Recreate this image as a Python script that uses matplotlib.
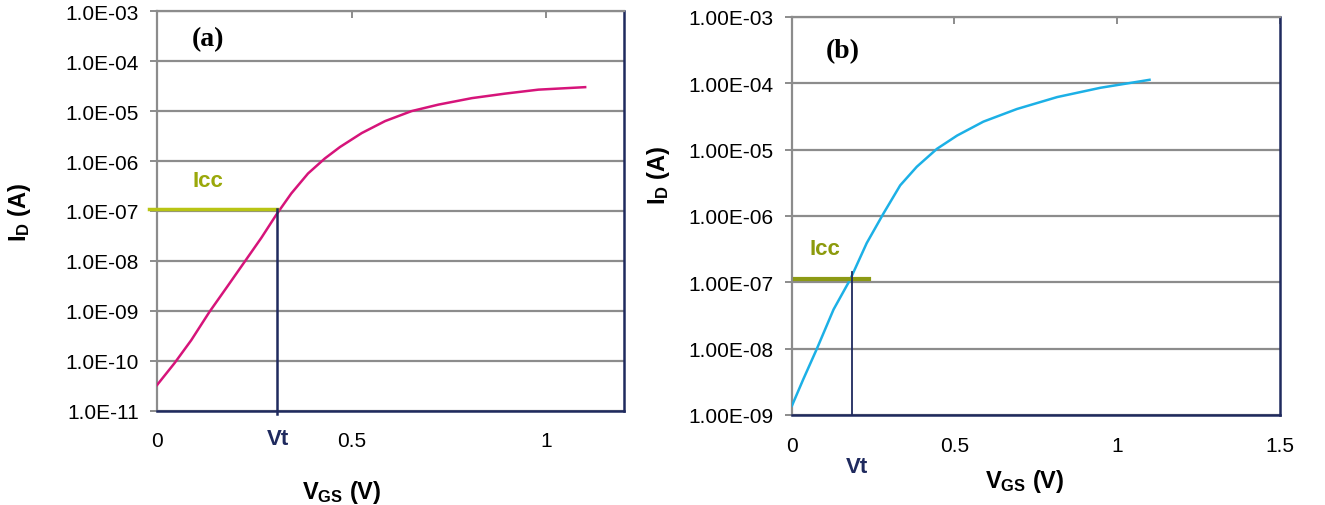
import numpy as np
import matplotlib
matplotlib.use("Agg")
import matplotlib.pyplot as plt
from matplotlib.ticker import FixedLocator, FixedFormatter

plt.rcParams['font.family'] = ['Liberation Sans', 'DejaVu Sans']
plt.rcParams['mathtext.fontset'] = 'custom'
plt.rcParams['mathtext.rm'] = 'Liberation Sans'
plt.rcParams['mathtext.bf'] = 'Liberation Sans:bold'

# ---------- data ----------
# panel (a)
vgs_a = [0.0, 0.045, 0.088, 0.135, 0.182, 0.225, 0.268, 0.307, 0.345, 0.388,
         0.431, 0.470, 0.526, 0.586, 0.654, 0.723, 0.809, 0.894, 0.980, 1.10]
log_id_a = [-10.49, -10.05, -9.59, -9.02, -8.5, -8.02, -7.54, -7.07, -6.65, -6.25,
            -5.95, -5.72, -5.44, -5.20, -5.0, -4.87, -4.74, -4.65, -4.57, -4.52]
icc_a = 1.1e-7
vt_a = 0.307
yticks_a = [1e-11, 1e-10, 1e-9, 1e-8, 1e-7, 1e-6, 1e-5, 1e-4, 1e-3]
ylabels_a = ['1.0E-11', '1.0E-10', '1.0E-09', '1.0E-08', '1.0E-07',
             '1.0E-06', '1.0E-05', '1.0E-04', '1.0E-03']
xticks_a = [0, 0.5, 1]
xlabels_a = ['0', '0.5', '1']

# panel (b)
vgs_b = [0.0, 0.035, 0.076, 0.128, 0.179, 0.230, 0.282, 0.333, 0.384, 0.446,
         0.508, 0.589, 0.692, 0.816, 0.949, 1.10]
log_id_b = [-8.86, -8.46, -8.01, -7.41, -6.96, -6.41, -5.96, -5.54, -5.26, -4.99,
            -4.79, -4.58, -4.39, -4.21, -4.07, -3.95]
icc_b = 1.12e-7
vt_b = 0.185
yticks_b = [1e-9, 1e-8, 1e-7, 1e-6, 1e-5, 1e-4, 1e-3]
ylabels_b = ['1.00E-09', '1.00E-08', '1.00E-07', '1.00E-06', '1.00E-05',
             '1.00E-04', '1.00E-03']
xticks_b = [0, 0.5, 1, 1.5]
xlabels_b = ['0', '0.5', '1', '1.5']

GRID = '#8c8c8c'
NAVY = '#1f2a5e'

fig = plt.figure(figsize=(13.25, 5.06), dpi=100)
ax_a = fig.add_axes([0.1185, 0.1867, 0.3525, 0.789])
ax_b = fig.add_axes([0.5977, 0.1779, 0.368, 0.787])


def style_axes(ax, xticks, xlabels, yticks, ylabels, xmax, ymin, ymax):
    ax.set_yscale('log')
    ax.set_xlim(0, xmax)
    ax.set_ylim(ymin, ymax)
    ax.yaxis.set_major_locator(FixedLocator(yticks))
    ax.yaxis.set_major_formatter(FixedFormatter(ylabels))
    ax.yaxis.set_minor_locator(FixedLocator([]))
    ax.set_xticks(xticks)
    ax.set_xticklabels(xlabels)
    ax.grid(axis='y', color=GRID, linewidth=1.6, zorder=0)
    for s in ['left', 'top']:
        ax.spines[s].set_color(GRID)
        ax.spines[s].set_linewidth(1.6)
    for s in ['right', 'bottom']:
        ax.spines[s].set_color(NAVY)
        ax.spines[s].set_linewidth(1.8)
    ax.tick_params(axis='y', direction='out', length=5, width=1.4, color=GRID,
                   labelsize=15, pad=8)
    ax.tick_params(axis='x', bottom=False, top=True, direction='in', length=5,
                   width=1.4, color=GRID, labelsize=15, pad=15)
    ax.set_xlabel(r'$\mathbf{V_{GS}}$ (V)', fontsize=17, fontweight='bold')
    ax.set_ylabel(r'$\mathbf{I_D}$ (A)', fontsize=17, fontweight='bold')


# ---------- panel (a) ----------
style_axes(ax_a, xticks_a, xlabels_a, yticks_a, ylabels_a, 1.2, 1e-11, 1e-3)
ax_a.plot(vgs_a, 10 ** np.array(log_id_a), color='#d6147a', linewidth=1.8,
          zorder=3)
ax_a.plot([-0.02, vt_a], [icc_a, icc_a], color='#b8c414', linewidth=2.5,
          clip_on=False, zorder=4)
ax_a.plot([vt_a, vt_a], [icc_a, 0.85e-11], color=NAVY, linewidth=1.8,
          clip_on=False, zorder=4)
ax_a.text(0.13, 4.0e-7, 'Icc', color='#9aa80a', fontsize=16, fontweight='bold',
          ha='center', va='center')
ax_a.text(0.13, 2.9e-4, '(a)', family='Liberation Serif', fontsize=20,
          fontweight='bold', ha='center', va='center')
ax_a.text(vt_a + 0.003, 0.27e-11, 'Vt', color=NAVY, fontsize=16,
          fontweight='bold', ha='center', va='center')
ax_a.xaxis.set_label_coords(0.396, -0.17)
ax_a.yaxis.set_label_coords(-0.265, 0.5)

# ---------- panel (b) ----------
style_axes(ax_b, xticks_b, xlabels_b, yticks_b, ylabels_b, 1.5, 1e-9, 1e-3)
ax_b.plot(vgs_b, 10 ** np.array(log_id_b), color='#1cb0e6', linewidth=1.8,
          zorder=3)
ax_b.plot([0.009, 0.238], [icc_b, icc_b], color='#8c9a14', linewidth=3,
          zorder=4)
ax_b.plot([vt_b, vt_b], [1.45e-7, 1.05e-9], color=NAVY, linewidth=1.3,
          zorder=4)
ax_b.text(0.1, 3.2e-7, 'Icc', color='#8c9a0c', fontsize=16, fontweight='bold',
          ha='center', va='center')
ax_b.text(0.155, 3.1e-4, '(b)', family='Liberation Serif', fontsize=20,
          fontweight='bold', ha='center', va='center')
ax_b.text(0.2, 1.65e-10, 'Vt', color=NAVY, fontsize=16,
          fontweight='bold', ha='center', va='center')
ax_b.xaxis.set_label_coords(0.478, -0.13)
ax_b.yaxis.set_label_coords(-0.245, 0.605)

fig.savefig('out.png', dpi=100)
